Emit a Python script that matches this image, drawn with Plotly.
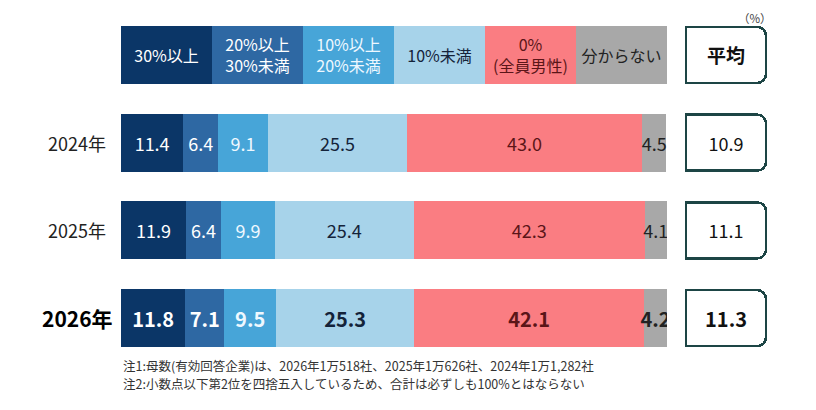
import plotly.graph_objects as go

# categories (header row) and yearly shares (%)
categories = ["30%以上", "20%以上<br>30%未満", "10%以上<br>20%未満", "10%未満",
              "0%<br>(全員男性)", "分からない"]
years = ["2024年", "2025年", "2026年"]
share_30 = [11.4, 11.9, 11.8]
share_20_30 = [6.4, 6.4, 7.1]
share_10_20 = [9.1, 9.9, 9.5]
share_lt10 = [25.5, 25.4, 25.3]
share_0 = [43.0, 42.3, 42.1]
share_unknown = [4.5, 4.1, 4.2]
averages = [10.9, 11.1, 11.3]
notes = [
    "注1:母数(有効回答企業)は、2026年1万518社、2025年1万626社、2024年1万1,282社",
    "注2:小数点以下第2位を四捨五入しているため、合計は必ずしも100%とはならない",
]

series = [share_30, share_20_30, share_10_20, share_lt10, share_0, share_unknown]
colors = ["#0b3667", "#2e68a3", "#47a5d8", "#a7d3ea", "#fa7d82", "#a8a8a8"]
text_colors = ["#ffffff", "#ffffff", "#eef8ff", "#14233a", "#5b1518", "#222222"]

FONT = "Noto Sans CJK JP"
# page body has an 8px margin, so the figure is a bit smaller than the window
W, H = 808, 402
ML, MR, MT, MB = 113, 46, 3, 48
plot_w = W - ML - MR
plot_h = H - MT - MB
bar_right = 659

# rows from top: header, 2024, 2025, 2026
pos = [3, 2, 1, 0]
header_w = 100 / len(categories)

fig = go.Figure()
for i, vals in enumerate(series):
    txt = [categories[i]] + [f"{v:.1f}" for v in vals[:-1]] + [f"<b>{vals[-1]:.1f}</b>"]
    fig.add_trace(go.Bar(
        x=[header_w] + vals, y=pos, orientation="h",
        marker=dict(color=colors[i], line=dict(width=0)),
        width=0.66,
        text=txt, textposition="inside", insidetextanchor="middle",
        constraintext="none", textangle=0,
        textfont=dict(family=FONT, color=text_colors[i], size=[16, 18, 18, 20]),
        hoverinfo="skip", showlegend=False,
    ))

# average boxes
fig.add_trace(go.Bar(
    x=[1] * 4, y=pos, orientation="h", xaxis="x2", yaxis="y",
    marker=dict(color="white", line=dict(color="#1d4545", width=2.5), cornerradius=9),
    width=0.64,
    text=["<b>平均</b>"] + [f"{a:.1f}" for a in averages[:-1]] + [f"<b>{averages[-1]:.1f}</b>"],
    textposition="inside", insidetextanchor="middle", constraintext="none", textangle=0,
    textfont=dict(family=FONT, color="#111111", size=[19, 18, 18, 20]),
    hoverinfo="skip", showlegend=False,
))

annotations = []
for i, yr in enumerate(years):
    last = i == len(years) - 1
    annotations.append(dict(
        x=-0.009 if last else -0.02, xref="paper", y=pos[i + 1], yref="y",
        xanchor="right", yanchor="middle", showarrow=False,
        text=f"<b>{yr}</b>" if last else yr,
        font=dict(family=FONT, size=21 if last else 18, color="#000" if last else "#222"),
    ))

annotations.append(dict(
    x=(747 - ML) / plot_w, xref="paper", y=1 + MT / plot_h, yref="paper",
    xanchor="center", yanchor="top", showarrow=False,
    text="（%）", font=dict(family=FONT, size=11.5, color="#444"),
))

for j, note in enumerate(notes):
    py = 357 + 18 * j
    annotations.append(dict(
        x=0, xref="paper", y=(H - MB - py) / plot_h, yref="paper",
        xanchor="left", yanchor="middle", showarrow=False,
        text=note, font=dict(family=FONT, size=12.5, color="#333"),
    ))

fig.update_layout(
    width=W, height=H,
    margin=dict(l=ML, r=MR, t=MT, b=MB),
    barmode="stack",
    paper_bgcolor="white", plot_bgcolor="white",
    xaxis=dict(domain=[0, (bar_right - ML) / plot_w], range=[0, 100], visible=False),
    xaxis2=dict(domain=[(674 - ML) / plot_w, 1], range=[-0.05, 1.05], visible=False, anchor="y"),
    yaxis=dict(range=[-0.5, 3.5], visible=False),
    annotations=annotations,
    font=dict(family=FONT),
)

fig.write_html("out.html")
